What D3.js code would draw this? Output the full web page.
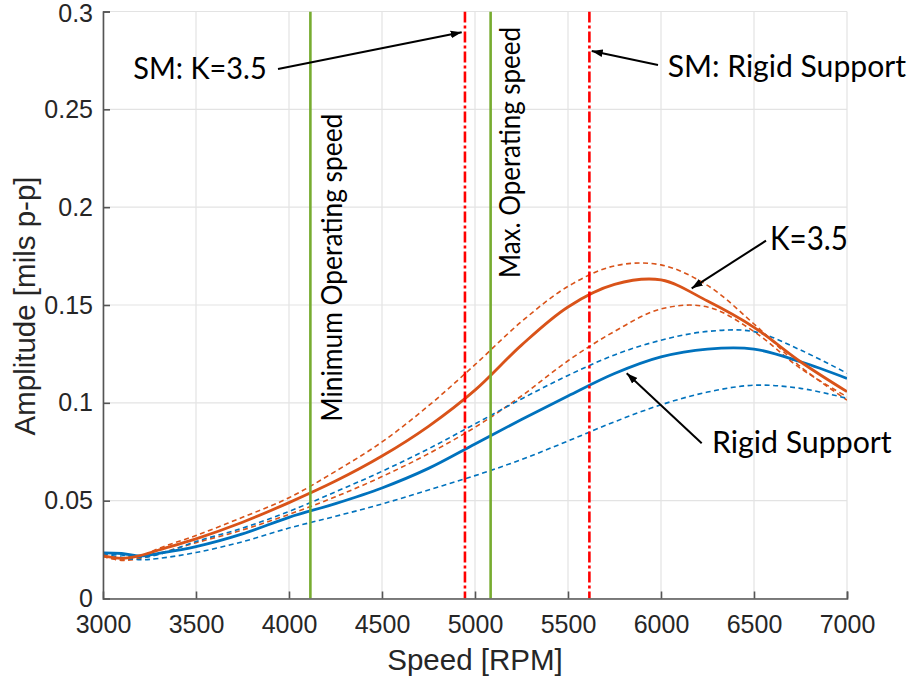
<!DOCTYPE html>
<html>
<head>
<meta charset="utf-8">
<script src="https://cdn.jsdelivr.net/npm/d3@7"></script>
<style>
  html, body { margin: 0; padding: 0; background: #fff; }
  svg { display: block; }
</style>
</head>
<body>
<svg id="chart" width="912" height="678"></svg>
<script>
// ---------------- data ----------------
const speeds = [3000, 3100, 3200, 3300, 3500, 3750, 4000, 4250, 4500, 4750, 5000, 5250, 5500, 5750, 6000, 6250, 6500, 6750, 7000];

const k35Main  = [0.0219, 0.0205, 0.0219, 0.0248, 0.0305, 0.0390, 0.0490, 0.0600, 0.0728, 0.0880, 0.1065, 0.1295, 0.1490, 0.1605, 0.1628, 0.1520, 0.1386, 0.1210, 0.1057];
const k35Upper = [0.0215, 0.0197, 0.0215, 0.0256, 0.0322, 0.0415, 0.0515, 0.0650, 0.0800, 0.0985, 0.1195, 0.1415, 0.1595, 0.1700, 0.1705, 0.1600, 0.1403, 0.1185, 0.1014];
const k35Lower = [0.0215, 0.0195, 0.0205, 0.0230, 0.0285, 0.0350, 0.0430, 0.0520, 0.0623, 0.0740, 0.0875, 0.1035, 0.1215, 0.1365, 0.1480, 0.1490, 0.1364, 0.1176, 0.1031];

const rigidMain  = [0.0233, 0.0230, 0.0218, 0.0231, 0.0265, 0.0330, 0.0415, 0.0485, 0.0565, 0.0665, 0.0790, 0.0915, 0.1035, 0.1150, 0.1235, 0.1275, 0.1275, 0.1210, 0.1125];
const rigidUpper = [0.0228, 0.0222, 0.0210, 0.0225, 0.0291, 0.0360, 0.0445, 0.0545, 0.0650, 0.0765, 0.0892, 0.1020, 0.1140, 0.1245, 0.1320, 0.1365, 0.1364, 0.1270, 0.1151];
const rigidLower = [0.0228, 0.0210, 0.0198, 0.0205, 0.0235, 0.0290, 0.0360, 0.0420, 0.0483, 0.0555, 0.0628, 0.0710, 0.0805, 0.0903, 0.0990, 0.1055, 0.1090, 0.1074, 0.1023];

const xTicks = [3000, 3500, 4000, 4500, 5000, 5500, 6000, 6500, 7000];
const yTicks = [0, 0.05, 0.1, 0.15, 0.2, 0.25, 0.3];
const yTickLabels = ["0", "0.05", "0.1", "0.15", "0.2", "0.25", "0.3"];

const operatingSpeeds = [4115, 5084];       // green lines
const operatingLabels = ["Minimum Operating speed", "Max. Operating speed"];
const separationMarginSpeeds = [4946, 5615]; // red dash-dot lines

// ---------------- layout ----------------
const svg = d3.select("#chart");
const L = 103, R = 847, T = 11.5, B = 598.5;

const x = d3.scaleLinear().domain([3000, 7000]).range([L, R]);
const y = d3.scaleLinear().domain([0, 0.3]).range([B, T]);

const ORANGE = "#D95319", BLUE = "#0072BD", GREEN = "#77AC30", RED = "#FF0000";
const AXIS = "#262626";

// grid
const grid = svg.append("g");
grid.selectAll("line.gx").data(xTicks).join("line")
  .attr("x1", d => x(d)).attr("x2", d => x(d)).attr("y1", T).attr("y2", B)
  .attr("stroke", "#e3e3e3").attr("stroke-width", 1.2);
grid.selectAll("line.gy").data(yTicks).join("line")
  .attr("x1", L).attr("x2", R).attr("y1", d => y(d)).attr("y2", d => y(d))
  .attr("stroke", "#e3e3e3").attr("stroke-width", 1.2);

// clip
svg.append("clipPath").attr("id", "clip").append("rect")
  .attr("x", L).attr("y", T).attr("width", R - L).attr("height", B - T);

const line = d3.line()
  .x((d, i) => x(speeds[i]))
  .y(d => y(d))
  .curve(d3.curveCatmullRom.alpha(0.5));

const plot = svg.append("g").attr("clip-path", "url(#clip)");

const dashedSeries = [
  {v: k35Upper, c: ORANGE}, {v: k35Lower, c: ORANGE},
  {v: rigidUpper, c: BLUE}, {v: rigidLower, c: BLUE}
];
dashedSeries.forEach(s => {
  plot.append("path").datum(s.v).attr("d", line)
    .attr("fill", "none").attr("stroke", s.c).attr("stroke-width", 1.6)
    .attr("stroke-dasharray", "5,3.5");
});
[{v: rigidMain, c: BLUE}, {v: k35Main, c: ORANGE}].forEach(s => {
  plot.append("path").datum(s.v).attr("d", line)
    .attr("fill", "none").attr("stroke", s.c).attr("stroke-width", 2.8);
});

// vertical speed lines
plot.selectAll("line.op").data(operatingSpeeds).join("line")
  .attr("x1", d => x(d)).attr("x2", d => x(d)).attr("y1", T).attr("y2", B)
  .attr("stroke", GREEN).attr("stroke-width", 2.6);
plot.selectAll("line.sm").data(separationMarginSpeeds).join("line")
  .attr("x1", d => x(d)).attr("x2", d => x(d)).attr("y1", T).attr("y2", B)
  .attr("stroke", RED).attr("stroke-width", 2.6)
  .attr("stroke-dasharray", "11,3,3,3");

// axes
const xAxis = d3.axisBottom(x).tickValues(xTicks).tickSize(-7).tickPadding(16).tickFormat(d3.format("d"));
const yAxis = d3.axisLeft(y).tickValues(yTicks).tickSize(-7).tickPadding(16).tickFormat((d, i) => yTickLabels[i]);

const gx = svg.append("g").attr("transform", `translate(0,${B})`).call(xAxis);
const gy = svg.append("g").attr("transform", `translate(${L},0)`).call(yAxis);
[gx, gy].forEach(g => {
  g.select(".domain").attr("stroke", "#555").attr("stroke-width", 1.6);
  g.selectAll(".tick line").attr("stroke", "#555").attr("stroke-width", 1.6);
  g.selectAll(".tick text").attr("fill", AXIS)
    .style("font-family", "'Liberation Sans', Arial, sans-serif").style("font-size", "25px");
});
gx.selectAll(".tick text").attr("dy", "0.71em").attr("y", 17);
gy.selectAll(".tick text").attr("x", -10);
gy.selectAll(".tick text").filter(d => d === 0.3).attr("dy", "0.38em");
gx.selectAll(".tick line").filter(d => d === 3000).remove();
gy.selectAll(".tick line").filter(d => d === 0).remove();

// axis titles
svg.append("text").attr("x", (L + R) / 2).attr("y", 670)
  .attr("text-anchor", "middle").attr("fill", AXIS)
  .style("font-family", "'Liberation Sans', Arial, sans-serif").style("font-size", "29.5px")
  .text("Speed [RPM]");
svg.append("text").attr("transform", `translate(35,${(T + B) / 2 + 1}) rotate(-90)`)
  .attr("text-anchor", "middle").attr("fill", AXIS)
  .style("font-family", "'Liberation Sans', Arial, sans-serif").style("font-size", "29.5px")
  .text("Amplitude [mils p-p]");

// vertical labels next to green lines
const vLabel = [
  {text: operatingLabels[0], xb: 342, yb: 421.7, len: 308},
  {text: operatingLabels[1], xb: 520, yb: 278, len: 251}
];
vLabel.forEach(t => {
  svg.append("text").attr("transform", `translate(${t.xb},${t.yb}) rotate(-90)`)
    .attr("fill", "#000")
    .attr("textLength", t.len).attr("lengthAdjust", "spacingAndGlyphs")
    .style("font-family", "Lato, 'Open Sans', sans-serif").style("font-size", "28px")
    .text(t.text);
});

// annotations
const defs = svg.append("defs");
defs.append("marker").attr("id", "arrow")
  .attr("viewBox", "0 0 10 10").attr("refX", 10).attr("refY", 5)
  .attr("markerWidth", 5.5).attr("markerHeight", 5.5).attr("markerUnits", "strokeWidth")
  .attr("orient", "auto")
  .append("path").attr("d", "M0,1.5 L10,5 L0,8.5 Z").attr("fill", "#000");

const notes = [
  {text: "SM: K=3.5", tx: 133.3, ty: 79, len: 133.4, fs: 31, ax1: 278, ay1: 69, ax2: 461.7, ay2: 32.3},
  {text: "SM: Rigid Support", tx: 667.7, ty: 77, len: 238.3, fs: 31, ax1: 658, ay1: 65, ax2: 591.7, ay2: 51},
  {text: "K=3.5", tx: 770, ty: 250, len: 78, fs: 32, ax1: 766, ay1: 240.7, ax2: 691.7, ay2: 288.3},
  {text: "Rigid Support", tx: 712, ty: 453, len: 179.7, fs: 31, ax1: 701.7, ay1: 443.3, ax2: 626.7, ay2: 373.3}
];
notes.forEach(n => {
  svg.append("line").attr("x1", n.ax1).attr("y1", n.ay1).attr("x2", n.ax2).attr("y2", n.ay2)
    .attr("stroke", "#000").attr("stroke-width", 2).attr("marker-end", "url(#arrow)");
  svg.append("text").attr("x", n.tx).attr("y", n.ty).attr("fill", "#000")
    .attr("textLength", n.len).attr("lengthAdjust", "spacingAndGlyphs")
    .style("font-family", "Lato, 'Open Sans', sans-serif").style("font-size", n.fs + "px")
    .text(n.text);
});
</script>
</body>
</html>
